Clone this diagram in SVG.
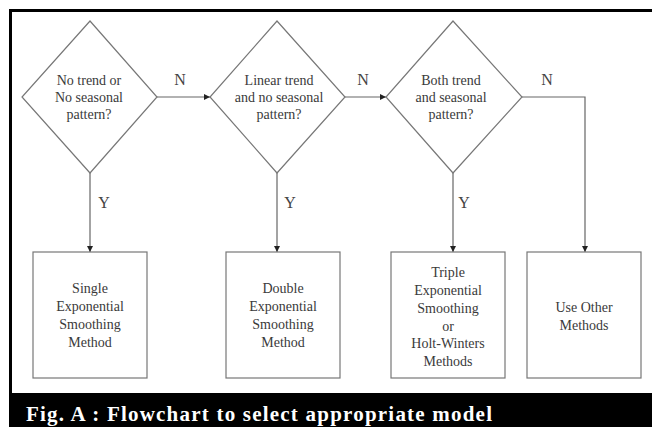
<svg xmlns="http://www.w3.org/2000/svg" width="652" height="427" viewBox="0 0 652 427">
<style>
.shape{fill:#fff;stroke:#777;stroke-width:1.2}
.t{font-family:"Liberation Serif","Times New Roman",serif;font-size:14px;fill:#3a3a3a;text-anchor:middle}
.lbl{font-family:"Liberation Serif","Times New Roman",serif;font-size:16px;fill:#444;text-anchor:middle}
.conn{fill:none;stroke:#666;stroke-width:1.2}
.cap{font-family:"Liberation Serif","Times New Roman",serif;font-size:21px;font-weight:bold;fill:#fff}
</style>
<defs>
<marker id="ah" viewBox="0 0 8 8" refX="8" refY="4" markerWidth="6" markerHeight="6" orient="auto" markerUnits="userSpaceOnUse">
<path d="M0,0 L8,4 L0,8 z" fill="#222"/>
</marker>
</defs>
<rect x="0" y="0" width="652" height="427" fill="#fff"/>
<g id="frame">
<rect x="9" y="9" width="643" height="3" fill="#000"/>
<rect x="9" y="9" width="3" height="418" fill="#000"/>
<rect x="9" y="393" width="643" height="34" fill="#000"/>
<text class="cap" x="26" y="421" textLength="466" lengthAdjust="spacing">Fig. A : Flowchart to select appropriate model</text>
</g>
<g id="connectors">
<path class="conn" d="M157,97 H210" marker-end="url(#ah)"/>
<path class="conn" d="M345,97 H386" marker-end="url(#ah)"/>
<path class="conn" d="M522,97 H585 V252" marker-end="url(#ah)"/>
<path class="conn" d="M90,173 V252" marker-end="url(#ah)"/>
<path class="conn" d="M277,173 V252" marker-end="url(#ah)"/>
<path class="conn" d="M453,173 V252" marker-end="url(#ah)"/>
<text class="lbl" x="180" y="85">N</text>
<text class="lbl" x="363" y="85">N</text>
<text class="lbl" x="547" y="85">N</text>
<text class="lbl" x="104" y="208">Y</text>
<text class="lbl" x="290" y="208">Y</text>
<text class="lbl" x="464" y="208">Y</text>
</g>
<g id="d1">
<polygon class="shape" points="90,21 157,97 90,173 22,97"/>
<text class="t" x="89" y="85">No trend or</text>
<text class="t" x="89" y="102">No seasonal</text>
<text class="t" x="89" y="119">pattern?</text>
</g>
<g id="d2">
<polygon class="shape" points="277,21 345,97 277,173 210,97"/>
<text class="t" x="279" y="85">Linear trend</text>
<text class="t" x="279" y="102">and no seasonal</text>
<text class="t" x="279" y="119">pattern?</text>
</g>
<g id="d3">
<polygon class="shape" points="453,21 522,97 453,173 386,97"/>
<text class="t" x="451" y="85">Both trend</text>
<text class="t" x="451" y="102">and seasonal</text>
<text class="t" x="451" y="119">pattern?</text>
</g>
<g id="b1">
<rect class="shape" x="33" y="252" width="114" height="126"/>
<text class="t" x="90" y="293">Single</text>
<text class="t" x="90" y="311">Exponential</text>
<text class="t" x="90" y="329">Smoothing</text>
<text class="t" x="90" y="347">Method</text>
</g>
<g id="b2">
<rect class="shape" x="226" y="252" width="114" height="126"/>
<text class="t" x="283" y="293">Double</text>
<text class="t" x="283" y="311">Exponential</text>
<text class="t" x="283" y="329">Smoothing</text>
<text class="t" x="283" y="347">Method</text>
</g>
<g id="b3">
<rect class="shape" x="391" y="252" width="114" height="126"/>
<text class="t" x="448" y="277">Triple</text>
<text class="t" x="448" y="295">Exponential</text>
<text class="t" x="448" y="313">Smoothing</text>
<text class="t" x="448" y="330.5">or</text>
<text class="t" x="448" y="348">Holt-Winters</text>
<text class="t" x="448" y="366">Methods</text>
</g>
<g id="b4">
<rect class="shape" x="527" y="252" width="114" height="126"/>
<text class="t" x="584" y="312">Use Other</text>
<text class="t" x="584" y="329.5">Methods</text>
</g>
</svg>
